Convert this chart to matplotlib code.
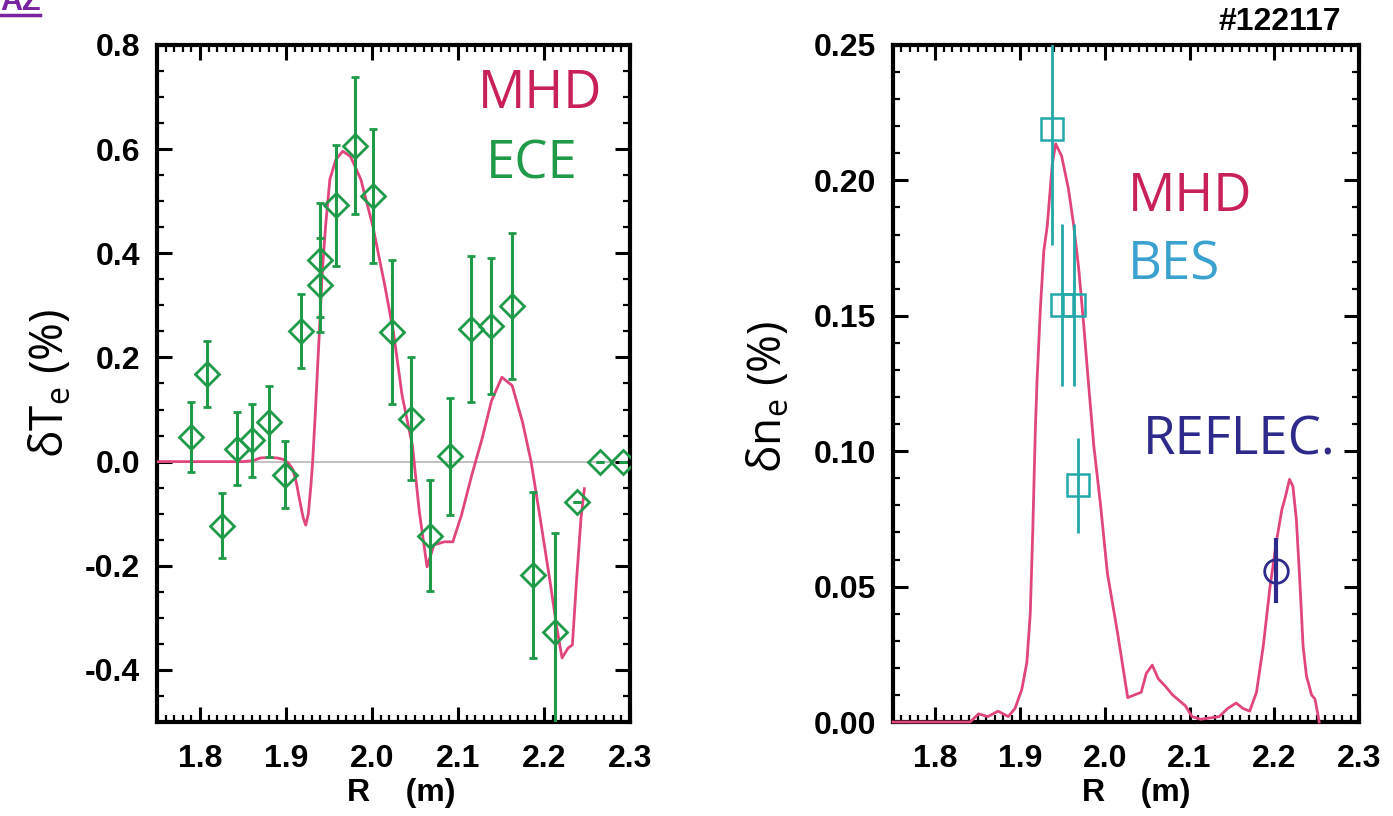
import matplotlib
matplotlib.use("Agg")
import matplotlib.pyplot as plt
from matplotlib.ticker import MultipleLocator, FormatStrFormatter

# ---------------- data ----------------
# Left panel: ECE measurements (R [m], dTe [%], error)
ece_R = [1.790, 1.808, 1.825, 1.843, 1.861, 1.880, 1.899, 1.918, 1.939, 1.939,
         1.958, 1.980, 2.001, 2.023, 2.045, 2.068, 2.091, 2.115, 2.138, 2.163,
         2.187, 2.213, 2.238, 2.265, 2.292]
ece_v = [0.047, 0.168, -0.123, 0.025, 0.041, 0.077, -0.025, 0.251, 0.339, 0.387,
         0.492, 0.607, 0.510, 0.249, 0.082, -0.142, 0.010, 0.255, 0.260, 0.299,
         -0.218, -0.328, -0.078, 0.000, 0.000]
ece_err = [0.067, 0.063, 0.062, 0.070, 0.070, 0.069, 0.065, 0.071, 0.090, 0.110,
           0.116, 0.131, 0.128, 0.138, 0.118, 0.106, 0.112, 0.140, 0.131, 0.140,
           0.160, 0.190, 0.0, 0.0, 0.0]

# Left panel: MHD model curve
mhd_te_R = [1.750, 1.800, 1.850, 1.862, 1.870, 1.880, 1.890, 1.897, 1.903, 1.908,
            1.912, 1.916, 1.920, 1.923, 1.926, 1.929, 1.931, 1.934, 1.937, 1.939,
            1.942, 1.946, 1.951, 1.958, 1.966, 1.975, 1.987, 2.001, 2.015, 2.025,
            2.035, 2.047, 2.055, 2.064, 2.072, 2.084, 2.094, 2.104, 2.116, 2.128,
            2.139, 2.151, 2.163, 2.175, 2.185, 2.195, 2.207, 2.215, 2.221, 2.228,
            2.233, 2.238, 2.243, 2.247]
mhd_te_v = [0.000, 0.000, 0.000, 0.002, 0.007, 0.008, 0.007, 0.004, -0.003, -0.015,
            -0.040, -0.075, -0.108, -0.122, -0.100, -0.045, 0.000, 0.090, 0.190, 0.255,
            0.360, 0.452, 0.542, 0.580, 0.596, 0.586, 0.542, 0.452, 0.337, 0.248,
            0.127, 0.031, -0.096, -0.202, -0.160, -0.154, -0.154, -0.103, -0.026, 0.044,
            0.117, 0.162, 0.146, 0.076, 0.000, -0.103, -0.230, -0.320, -0.377, -0.358,
            -0.352, -0.224, -0.109, -0.052]

# Right panel: BES measurements
bes_R = [1.938, 1.949, 1.964, 1.968]
bes_v = [0.219, 0.154, 0.154, 0.0874]
bes_err = [0.043, 0.030, 0.030, 0.0176]

# Right panel: reflectometer measurement
ref_R = [2.202]
ref_v = [0.0558]
ref_err = [0.012]

# Right panel: MHD model curve
mhd_ne_R = [1.750, 1.800, 1.841, 1.851, 1.862, 1.874, 1.886, 1.894, 1.902, 1.908,
            1.912, 1.915, 1.918, 1.920, 1.924, 1.928, 1.932, 1.938, 1.942, 1.949,
            1.957, 1.963, 1.969, 1.975, 1.981, 1.987, 1.995, 2.003, 2.015, 2.027,
            2.043, 2.049, 2.056, 2.063, 2.072, 2.080, 2.095, 2.103, 2.113, 2.135,
            2.145, 2.155, 2.163, 2.171, 2.179, 2.187, 2.195, 2.203, 2.209, 2.213,
            2.218, 2.222, 2.226, 2.230, 2.234, 2.238, 2.244, 2.248, 2.251, 2.253]
mhd_ne_v = [0.000, 0.000, 0.000, 0.003, 0.002, 0.004, 0.002, 0.005, 0.012, 0.022,
            0.040, 0.071, 0.108, 0.126, 0.153, 0.174, 0.183, 0.206, 0.2135, 0.209,
            0.197, 0.184, 0.168, 0.147, 0.124, 0.102, 0.080, 0.055, 0.033, 0.009,
            0.011, 0.018, 0.021, 0.016, 0.013, 0.010, 0.006, 0.002, 0.001, 0.002,
            0.005, 0.007, 0.005, 0.004, 0.011, 0.028, 0.050, 0.0675, 0.0785, 0.083,
            0.0896, 0.087, 0.075, 0.053, 0.028, 0.017, 0.010, 0.0085, 0.0036, 0.000]

x_ticks = [1.8, 1.9, 2.0, 2.1, 2.2, 2.3]

# ---------------- style ----------------
MHD_LINE = "#E0457E"
MHD_TEXT = "#C8205A"
ECE_COL = "#1E9A48"
BES_MARK = "#22A8A8"
BES_TEXT = "#3BA2CF"
REF_COL = "#2E2A8C"

TICK_FONT = "Liberation Sans"
LBL_FONT = "Open Sans"

fig = plt.figure(figsize=(13.93, 8.16), dpi=100)
ax1 = fig.add_axes([157/1393, 1-722/816, (630-157)/1393, (722-45)/816])
ax2 = fig.add_axes([893/1393, 1-722/816, (1359-893)/1393, (722-45)/816])


def style_axes(ax, ymaj, ymin, fmt):
    ax.set_xlim(1.75, 2.30)
    ax.set_xticks(x_ticks)
    ax.xaxis.set_minor_locator(MultipleLocator(0.01))
    ax.yaxis.set_major_locator(MultipleLocator(ymaj))
    ax.yaxis.set_minor_locator(MultipleLocator(ymin))
    ax.yaxis.set_major_formatter(FormatStrFormatter(fmt))
    ax.xaxis.set_major_formatter(FormatStrFormatter("%.1f"))
    ax.tick_params(which="both", direction="in", top=True, right=True)
    ax.tick_params(which="major", length=11, width=2.2)
    ax.tick_params(which="minor", length=5, width=1.6)
    ax.tick_params(axis="x", which="major", pad=16)
    ax.tick_params(axis="y", which="major", pad=12)
    for lab in ax.get_xticklabels() + ax.get_yticklabels():
        lab.set_fontfamily(TICK_FONT)
        lab.set_fontweight("bold")
        lab.set_fontsize(23)
    for sp in ax.spines.values():
        sp.set_linewidth(3.0)
    ax.set_xlabel("R    (m)", fontfamily=TICK_FONT, fontweight="bold", fontsize=23)


# ---- left panel ----
ax1.set_ylim(-0.5, 0.8)
style_axes(ax1, 0.2, 0.05, "%.1f")
ax1.axhline(0.0, color="#BBBBBB", lw=1.3, zorder=1)
ax1.plot(mhd_te_R, mhd_te_v, color=MHD_LINE, lw=2.0, zorder=3)
ax1.errorbar(ece_R, ece_v, yerr=ece_err, fmt="D", mfc="none", mec=ECE_COL,
             ecolor=ECE_COL, ms=12, mew=2.0, elinewidth=2.2, capsize=3,
             capthick=1.8, zorder=4, clip_on=True)
ax1.text(2.195, 0.706, "MHD", color=MHD_TEXT, fontfamily=LBL_FONT, fontsize=38,
         ha="center", va="center")
ax1.text(2.186, 0.570, "ECE", color=ECE_COL, fontfamily=LBL_FONT, fontsize=38,
         ha="center", va="center")
ax1.set_ylabel(r"$\mathregular{\delta T_e}$ (%)", fontfamily=LBL_FONT, fontsize=33)
ax1.yaxis.set_label_coords(-0.175, 0.50)
ax1.xaxis.set_label_coords(0.517, -0.083)

# ---- right panel ----
ax2.set_ylim(0.0, 0.25)
style_axes(ax2, 0.05, 0.01, "%.2f")
ax2.plot(mhd_ne_R, mhd_ne_v, color=MHD_LINE, lw=2.0, zorder=3, clip_on=False)
ax2.errorbar(bes_R, bes_v, yerr=bes_err, fmt="s", mfc="none", mec=BES_MARK,
             ecolor=BES_MARK, ms=15.5, mew=1.8, elinewidth=2.0, capsize=0, zorder=4)
ax2.errorbar(ref_R, ref_v, yerr=ref_err, fmt="o", mfc="none", mec=REF_COL,
             ecolor=REF_COL, ms=17, mew=2.0, elinewidth=3.0, capsize=0, zorder=4)
ax2.text(2.027, 0.1938, "MHD", color=MHD_TEXT, fontfamily=LBL_FONT, fontsize=38,
         ha="left", va="center")
ax2.text(2.027, 0.1686, "BES", color=BES_TEXT, fontfamily=LBL_FONT, fontsize=38,
         ha="left", va="center")
ax2.text(2.045, 0.104, "REFLEC.", color=REF_COL, fontfamily=LBL_FONT, fontsize=38,
         ha="left", va="center")
ax2.set_ylabel(r"$\mathregular{\delta n_e}$ (%)", fontfamily=LBL_FONT, fontsize=33)
ax2.yaxis.set_label_coords(-0.215, 0.48)
ax2.xaxis.set_label_coords(0.523, -0.083)

# ---- annotations ----
fig.text(1280/1393, 1-22/816, "#122117", fontfamily=TICK_FONT, fontweight="bold",
         fontsize=23, ha="center", va="center")
fig.text(0.0, 1-10/816, "AZ", color="#7B22A0", fontfamily=TICK_FONT, fontweight="bold",
         fontsize=22, ha="left", va="baseline")
fig.add_artist(plt.Line2D([0, 40/1393], [1-15/816, 1-15/816], color="#7B22A0", lw=2.5,
                          transform=fig.transFigure))

fig.savefig("out.png", dpi=100)
